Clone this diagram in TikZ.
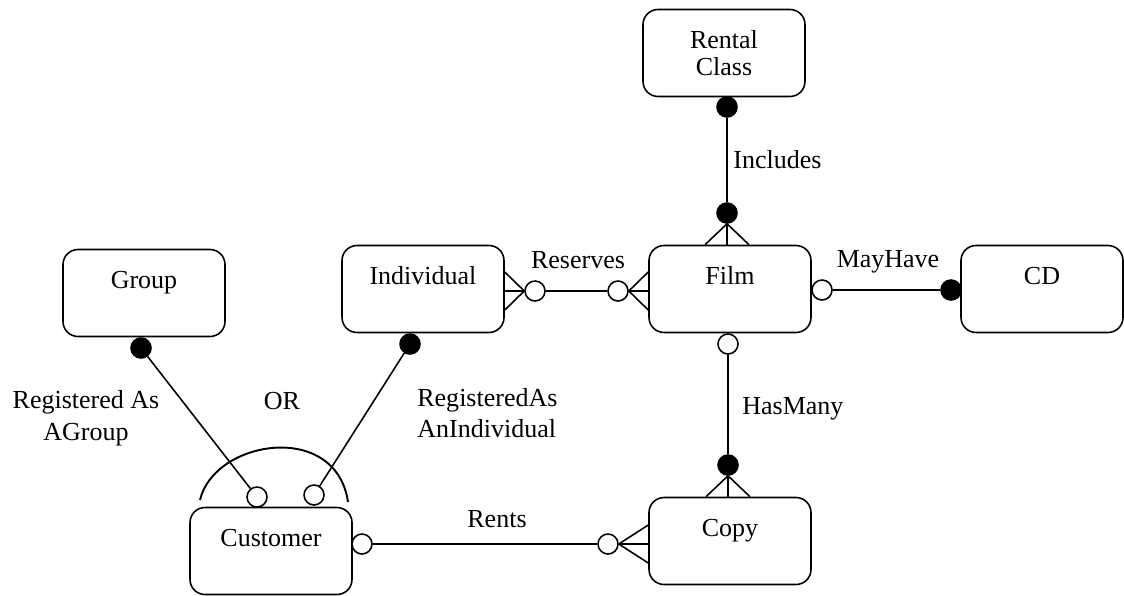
\documentclass[tikz,border=0pt]{standalone}
\usepackage{fontspec}
\setmainfont{Liberation Serif}
\usepackage{tikz}
\usetikzlibrary{calc,positioning}
\tikzset{
  ent/.style={
    draw,
    rounded corners=0.3cm,
    line width=0.9pt,
    align=center,
    minimum width=3.24cm,
    minimum height=1.74cm
  },
  entity/.style={
    ent,
    text height=0.36cm,
    text depth=0.54cm
  },
  opendot/.style={
    circle,
    draw,
    fill=white,
    line width=0.9pt,
    minimum size=0.4cm,
    inner sep=0pt
  },
  fulldot/.style={
    opendot,
    fill=black
  },
  rel/.style={
    line width=0.9pt
  },
  rellabel/.style={
    inner sep=0pt
  }
}

\begin{document}
\begin{tikzpicture}[x=0.02cm,y=-0.02cm,font=\fontsize{14.8pt}{18pt}\selectfont]
    \useasboundingbox (0,0) rectangle (1124,595);
    % entities
    \node[ent] (rental) at (724,53) {Rental\\[-0.1cm]Class};
    \node[entity] (group) at (144,293) {Group};
    \node[entity] (indiv) at (423,289) {Individual};
    \node[entity] (film) at (730,289) {Film};
    \node[entity] (cd) at (1042,289) {CD};
    \node[entity] (customer) at (271,551) {Customer};
    \node[entity] (copy) at (730,541) {Copy};
    % cardinality dots
    \node[fulldot] (inc1) at (727,107) {};
    \node[fulldot] (inc2) at (727,213) {};
    \node[opendot] (res1) at (535,291) {};
    \node[opendot] (res2) at (618,291) {};
    \node[opendot] (may1) at (822,290) {};
    \node[fulldot] (may2) at (951,290) {};
    \node[opendot] (has1) at (728,344) {};
    \node[fulldot] (has2) at (728,465) {};
    \node[opendot] (rent1) at (362,544) {};
    \node[opendot] (rent2) at (608,544) {};
    \node[fulldot] (grp1) at (141,348) {};
    \node[opendot] (grp2) at (257,497) {};
    \node[fulldot] (ind1) at (410,344) {};
    \node[opendot] (ind2) at (314,495) {};
    % relationships
    \draw[rel] (inc1) -- (inc2);
    \draw[rel] (res1) -- (res2);
    \draw[rel] (may1) -- (may2);
    \draw[rel] (has1) -- (has2);
    \draw[rel] (rent1) -- (rent2);
    \draw[rel] (grp1) -- (grp2);
    \draw[rel] (ind1) -- (ind2);
    % crow's feet
    \foreach \d in {-22,0,22} {
      \draw[rel] (inc2.south) -- ([xshift=\d*0.02cm]inc2.south |- film.north);
      \draw[rel] (has2.south) -- ([xshift=\d*0.02cm]has2.south |- copy.north);
    }
    \foreach \d in {-19,0,19} {
      \draw[rel] (res1.west) -- ([yshift=\d*0.02cm]res1.west -| indiv.east);
      \draw[rel] (res2.east) -- ([yshift=\d*0.02cm]res2.east -| film.west);
      \draw[rel] (rent2.east) -- ([yshift=\d*0.02cm]rent2.east -| copy.west);
    }
    % exclusive arc
    \draw[line width=1.1pt] (200,500) .. controls (214,440) and (336,420) .. (348,502);
    % labels
    \node[rellabel, anchor=west] (includes) at (733,160) {Includes};
    \node[rellabel] (reserves) at (578,260) {Reserves};
    \node[rellabel] (mayhave) at (888,262) {MayHave};
    \node[rellabel, anchor=west] (hasmany) at (742,409) {HasMany};
    \node[rellabel] (rents) at (497,519) {Rents};
    \node[rellabel, align=center] (asgroup) at (86,418) {Registered As\\AGroup};
    \node[rellabel, align=left, anchor=west] (asindiv) at (417,413) {RegisteredAs\\AnIndividual};
    \node[rellabel] (or) at (282,401) {OR};
\end{tikzpicture}
\end{document}
